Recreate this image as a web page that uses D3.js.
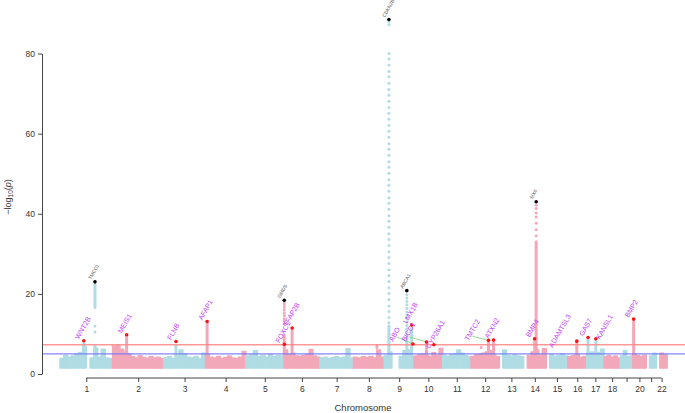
<!DOCTYPE html>
<html>
<head>
<meta charset="utf-8">
<script src="https://cdn.jsdelivr.net/npm/d3@7"></script>
<style>
  body { margin: 0; background: #fff; }
  svg { font-family: "Liberation Sans", Arial, sans-serif; }
</style>
</head>
<body>
<div id="chart"></div>
<script>
// chromosomes and their lengths (Mb)
const chromosomes = ["1","2","3","4","5","6","7","8","9","10","11","12","13","14","15","16","17","18","19","20","21","22"];
const chrLengths = [249.3, 243.2, 198.0, 191.2, 180.9, 171.1, 159.1, 146.4, 141.2, 135.5, 135.0, 133.9, 115.2, 107.3, 102.5, 90.4, 81.2, 78.1, 59.1, 63.0, 48.1, 51.3];
const tickLabels = ["1","2","3","4","5","6","7","8","9","10","11","12","13","14","15","16","17","18","","20","","22"];
const yTicks = [0, 20, 40, 60, 80];

// top of the dense point cloud along each chromosome, -log10(p), null = no SNPs
const cloudTops = [
  [3.9, 4.6, 4.2, 4.5, 5.0, 5.4, 6.8, null, 4.0, 6.5, 4.2, 6.2, 4.0, 3.8],
  [6.8, 7.2, 6.2, 5.5, 5.0, 4.3, 4.0, 4.6, 4.1, 3.9, 4.4, 4.0, 4.2, 3.8],
  [4.0, 4.3, 3.9, 4.5, 6.0, 5.0, 4.2, 4.0, 4.4, 3.9, 5.2],
  [5.0, 4.2, 4.0, 4.4, 3.9, 4.1, 4.5, 4.0, 3.8, 4.2, 5.6],
  [4.5, 4.8, 5.8, 4.4, 4.6, 4.2, 4.9, 4.3, 4.6, 4.5],
  [6.0, 4.8, 5.2, 4.5, 4.4, 4.6, 4.9, 6.1, 4.5, 4.2],
  [4.0, 4.2, 3.8, 4.1, 4.3, 4.0, 4.2, 6.3, 4.0],
  [4.2, 4.0, 4.3, 4.1, 4.4, 4.0, 6.0, 4.2],
  [4.6, 5.5, null, null, 4.4, 5.8, 6.0, 4.3],
  [4.5, 4.8, 5.0, 4.6, 4.4, 5.3, 4.6, 6.4],
  [4.6, 4.4, 4.8, 5.0, 6.0, 5.2, 4.6, 4.3],
  [4.4, 4.8, 5.0, 5.2, 5.5, 5.8, 4.7, 4.3],
  [null, 6.0, 4.6, 4.5, 4.8, 4.5, 4.3],
  [null, 4.6, 5.5, 6.0, 4.7, 6.3],
  [null, 4.8, 4.4, 4.6, 5.0, 4.5],
  [4.3, 4.6, 4.9, 4.2, 4.4],
  [5.2, 5.5, 5.0, 5.4, 6.2],
  [4.3, 4.6, 4.2, 4.5, 4.0],
  [4.5, 5.8, 4.3, 4.5],
  [5.0, 4.6, 4.3, 4.7],
  [null, 4.5, 5.2],
  [null, 5.2, 4.8]
];
const cloudFloor = 1.5;

// dense runs of SNPs under the peaks: [chr, position Mb, low, high]
const peakRuns = [
  [1, 166, 16.6, 22.4], [1, 166, 4.5, 7.0], [1, 113, 4.5, 7.6],
  [2, 67, 4.5, 9.3], [3, 58, 4.5, 7.2], [4, 7.8, 4.5, 12.6],
  [6, 1.8, 4.5, 9.7], [6, 39, 4.5, 11.0],
  [9, 22, 4.5, 12.0], [9, 107, 4.5, 9.0], [9, 130, 4.5, 11.5],
  [10, 59, 4.5, 7.5], [12, 83, 4.5, 8.0], [12, 107, 4.5, 8.0],
  [14, 60, 4.5, 33.0], [14, 53, 4.5, 8.3], [16, 43, 4.5, 7.8],
  [17, 6, 4.5, 8.6], [17, 43, 4.5, 8.3], [20, 4, 4.5, 13.2]
];

// single SNPs above the cloud: [chr, position Mb, -log10(p)]
const peakDots = [
  [1, 166, 12.0], [1, 166, 10.5],
  [6, 1.8, 17.8], [6, 1.8, 17.2], [6, 1.8, 16.6], [6, 1.8, 16.0], [6, 1.8, 15.2], [6, 1.8, 14.6], [6, 1.8, 13.8], [6, 1.8, 13.2], [6, 1.8, 12.5],
  [9, 22, 87.9], [9, 22, 87.2], [9, 22, 80.0], [9, 22, 78.6], [9, 22, 77.1], [9, 22, 75.5], [9, 22, 74.2], [9, 22, 72.6], [9, 22, 71.0],
  [9, 22, 69.6], [9, 22, 68.1], [9, 22, 66.5], [9, 22, 65.1], [9, 22, 63.6], [9, 22, 62.0], [9, 22, 60.6], [9, 22, 59.1], [9, 22, 57.5],
  [9, 22, 56.1], [9, 22, 54.6], [9, 22, 53.0], [9, 22, 51.6], [9, 22, 50.1], [9, 22, 48.5], [9, 22, 47.1], [9, 22, 45.6], [9, 22, 44.0],
  [9, 22, 42.6], [9, 22, 41.1], [9, 22, 39.5], [9, 22, 38.1], [9, 22, 36.6], [9, 22, 35.0], [9, 22, 33.6], [9, 22, 32.1], [9, 22, 30.5],
  [9, 22, 29.1], [9, 22, 27.6], [9, 22, 26.0], [9, 22, 24.6], [9, 22, 23.1], [9, 22, 21.5], [9, 22, 20.1], [9, 22, 18.6], [9, 22, 17.0],
  [9, 22, 15.6], [9, 22, 14.1], [9, 22, 12.8],
  [9, 107, 19.8], [9, 107, 19.0], [9, 107, 18.1], [9, 107, 17.3], [9, 107, 16.4], [9, 107, 15.5], [9, 107, 14.6], [9, 107, 13.8],
  [9, 107, 13.0], [9, 107, 12.1], [9, 107, 11.3], [9, 107, 10.4], [9, 107, 9.6],
  [14, 60, 42.1], [14, 60, 41.3], [14, 60, 40.2], [14, 60, 39.2], [14, 60, 37.6], [14, 60, 36.0], [14, 60, 34.5],
  [8, 111, 6.6], [8, 112, 7.0], [12, 48, 6.6], [2, 3, 7.0], [2, 5, 6.5]
];

// lead SNPs of novel loci (red) and of known loci (black)
const novelHits = [
  [1, 113, 8.3, "WNT2B"], [2, 67, 9.8, "MEIS1"], [3, 58, 8.1, "FLNB"], [4, 7.8, 13.1, "AFAP1"],
  [6, 1.8, 7.4, "FOXC1"], [6, 39, 11.5, "TFAP2B"], [9, 136, 7.5, "ABO"], [9, 130, 12.2, "LMX1B"],
  [10, 59, 8.0, "BICC1"], [10, 94, 7.3, "CYP26A1"], [12, 83, 8.4, "TMTC2"], [12, 107, 8.5, "ATXN2"],
  [14, 53, 8.8, "BMP4"], [16, 43, 8.2, ""], [17, 6, 9.1, "GAS7"], [17, 43, 8.8, "KANSL1"], [20, 4, 13.7, "BMP2"]
];
const knownHits = [
  [1, 166, 23.0, "TMCO1"], [6, 1.8, 18.4, "GMDS"], [9, 22, 88.5, "CDKN2B"], [9, 107, 20.8, "ABCA1"], [14, 60, 43.0, "SIX6"]
];
const labelOnly = [[15, 55, 6.2, "ADAMTSL3"]];
const genomeWide = 7.3;
const suggestive = 5;

// labels pushed away from their SNP: [gene, dx, dy, leader]
const nudges = [["ABO", -20, -2, true], ["BICC1", -21, 0, true], ["TMTC2", -20, 1, true], ["KANSL1", 4, 1, true], ["CYP26A1", -4, 4, false]];

const width = 685, height = 413;
const colors = ["#b0dce4", "#f3a8ba"];

const svg = d3.select("#chart").append("svg").attr("width", width).attr("height", height);

const offsets = d3.cumsum([0].concat(chrLengths));
const total = d3.sum(chrLengths);
const x = d3.scaleLinear().domain([0, total]).range([60, 667]);
const y = d3.scaleLinear().domain([0, 80]).range([374, 53.5]);
const gx = (chr, pos) => x(offsets[chr - 1] + pos);
const chrColor = chr => colors[(chr - 1) % 2];

// point cloud
const bins = [];
cloudTops.forEach((tops, i) => {
  const w = chrLengths[i] / tops.length;
  tops.forEach((v, j) => { if (v != null) bins.push({ chr: i + 1, start: j * w, end: (j + 1) * w, v }); });
});
svg.append("g").selectAll("rect").data(bins).join("rect")
  .attr("x", d => gx(d.chr, d.start))
  .attr("width", d => gx(d.chr, d.end) - gx(d.chr, d.start) + 0.2)
  .attr("y", d => y(d.v))
  .attr("height", d => y(cloudFloor) - y(d.v))
  .attr("fill", d => chrColor(d.chr))
  .attr("stroke", d => chrColor(d.chr))
  .attr("stroke-width", 1.4)
  .attr("stroke-linejoin", "round");

svg.append("g").selectAll("line").data(peakRuns).join("line")
  .attr("x1", d => gx(d[0], d[1])).attr("x2", d => gx(d[0], d[1]))
  .attr("y1", d => y(d[2])).attr("y2", d => y(d[3]))
  .attr("stroke", d => chrColor(d[0]))
  .attr("stroke-width", 3).attr("stroke-linecap", "round");

svg.append("g").selectAll("circle").data(peakDots).join("circle")
  .attr("cx", d => gx(d[0], d[1])).attr("cy", d => y(d[2])).attr("r", 1.5)
  .attr("fill", d => chrColor(d[0]));

// threshold lines
svg.append("line").attr("x1", 42).attr("x2", width).attr("y1", y(suggestive)).attr("y2", y(suggestive))
  .attr("stroke", "#7070ff").attr("stroke-width", 1.3).attr("opacity", 0.85);
svg.append("line").attr("x1", 42).attr("x2", width).attr("y1", y(genomeWide)).attr("y2", y(genomeWide))
  .attr("stroke", "#ff8888").attr("stroke-width", 1.3).attr("opacity", 0.85);

// labels
const nudgeOf = g => nudges.find(n => n[0] == g);
const labelAt = d => {
  const n = nudgeOf(d[3]);
  return [gx(d[0], d[1]) - 5 + (n ? n[1] + 5 : 0), y(d[2]) - 1 + (n ? n[2] + 1 : 0)];
};

svg.append("g").selectAll("line").data(novelHits.filter(d => nudgeOf(d[3]) && nudgeOf(d[3])[3])).join("line")
  .attr("x1", d => labelAt(d)[0] + 4).attr("y1", d => labelAt(d)[1] - 5)
  .attr("x2", d => gx(d[0], d[1])).attr("y2", d => y(d[2]))
  .attr("stroke", "#7fd07f").attr("stroke-width", 0.8);

svg.append("g").selectAll("circle").data(novelHits).join("circle")
  .attr("cx", d => gx(d[0], d[1])).attr("cy", d => y(d[2])).attr("r", 1.8).attr("fill", "#ff1010");
svg.append("g").selectAll("circle").data(knownHits).join("circle")
  .attr("cx", d => gx(d[0], d[1])).attr("cy", d => y(d[2])).attr("r", 1.8).attr("fill", "#000");

svg.append("g").selectAll("text").data(novelHits.concat(labelOnly)).join("text")
  .attr("transform", d => `translate(${labelAt(d)[0]},${labelAt(d)[1]}) rotate(-60)`)
  .attr("font-size", 7).attr("fill", "#c03cf8")
  .text(d => d[3]);

svg.append("g").selectAll("text").data(knownHits).join("text")
  .attr("transform", d => `translate(${gx(d[0], d[1]) - 4},${y(d[2]) - 2}) rotate(-60)`)
  .attr("font-size", 4.8).attr("fill", "#555")
  .text(d => d[3]);

// y axis
const yAxis = svg.append("g").attr("transform", "translate(42,0)")
  .call(d3.axisLeft(y).tickValues(yTicks).tickSize(4).tickSizeOuter(0).tickPadding(3));
yAxis.select(".domain").attr("stroke", "#444");
yAxis.selectAll(".tick line").attr("stroke", "#444");
yAxis.selectAll(".tick text").attr("font-size", 8.5).attr("fill", "#333").attr("font-family", "Liberation Sans, Arial, sans-serif");

const ylab = svg.append("text").attr("transform", "translate(11,197) rotate(-90)")
  .attr("text-anchor", "middle").attr("font-size", 9).attr("fill", "#333");
ylab.append("tspan").text("\u2212log");
ylab.append("tspan").attr("font-size", 6.5).attr("dy", 2).text("10");
ylab.append("tspan").attr("dy", -2).text("(");
ylab.append("tspan").attr("font-style", "italic").text("p");
ylab.append("tspan").text(")");

// x axis
const centers = chromosomes.map((c, i) => offsets[i] + chrLengths[i] / 2);
const xAxis = svg.append("g").attr("transform", "translate(0,378)")
  .call(d3.axisBottom(x).tickValues(centers).tickSize(4).tickSizeOuter(0).tickPadding(4)
    .tickFormat((d, i) => tickLabels[i]));
xAxis.select(".domain").remove();
xAxis.append("line").attr("x1", x(centers[0])).attr("x2", x(centers[centers.length - 1]))
  .attr("stroke", "#444");
xAxis.selectAll(".tick line").attr("stroke", "#444");
xAxis.selectAll(".tick text").attr("font-size", 8.5).attr("fill", "#333").attr("font-family", "Liberation Sans, Arial, sans-serif");

svg.append("text").attr("x", 363).attr("y", 411).attr("text-anchor", "middle")
  .attr("font-size", 9.5).attr("fill", "#333").text("Chromosome");
</script>
</body>
</html>
